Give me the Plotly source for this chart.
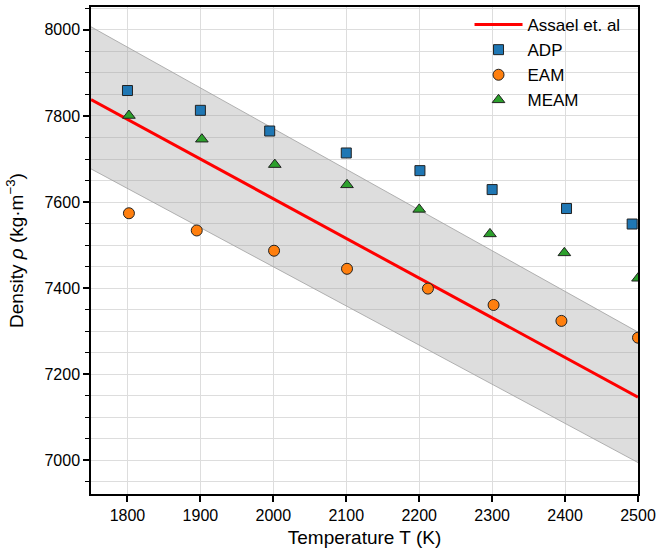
import plotly.graph_objects as go

# Data
T_line = [1750, 2500]
rho_line = [7838, 7147]
band_upper = [8007, 7298]
band_lower = [7677, 6995]

T_adp = [1800, 1900, 1995, 2100, 2201, 2300, 2402, 2492]
rho_adp = [7859, 7813, 7765, 7714, 7673, 7629, 7585, 7549]

T_eam = [1802, 1895, 2001, 2101, 2212, 2302, 2395, 2500]
rho_eam = [7574, 7534, 7487, 7445, 7399, 7361, 7324, 7285]

T_meam = [1802, 1902, 2002, 2101, 2200, 2297, 2399, 2500]
rho_meam = [7801, 7746, 7687, 7640, 7583, 7526, 7482, 7423]

x_ticks = [1800, 1900, 2000, 2100, 2200, 2300, 2400, 2500]
y_ticks = [7000, 7200, 7400, 7600, 7800, 8000]

FONT = "Liberation Sans, Arial, sans-serif"
fig = go.Figure()

fig.add_trace(go.Scatter(x=T_line, y=band_lower, mode="lines",
                         line=dict(color="rgba(160,160,160,0.8)", width=1),
                         showlegend=False, hoverinfo="skip"))
fig.add_trace(go.Scatter(x=T_line, y=band_upper, mode="lines", fill="tonexty",
                         fillcolor="rgba(150,150,150,0.32)",
                         line=dict(color="rgba(160,160,160,0.8)", width=1),
                         showlegend=False, hoverinfo="skip"))
fig.add_trace(go.Scatter(x=T_line, y=rho_line, mode="lines", name="Assael et. al",
                         line=dict(color="#ff0000", width=3)))
fig.add_trace(go.Scatter(x=T_adp, y=rho_adp, mode="markers", name="ADP",
                         marker=dict(symbol="square", size=10, color="#1f77b4",
                                     line=dict(color="#222", width=1))))
fig.add_trace(go.Scatter(x=T_eam, y=rho_eam, mode="markers", name="EAM",
                         marker=dict(symbol="circle", size=11, color="#ff7f0e",
                                     line=dict(color="#222", width=1))))
fig.add_trace(go.Scatter(x=T_meam, y=rho_meam, mode="markers", name="MEAM",
                         marker=dict(symbol="triangle-up", size=11, color="#2ca02c",
                                     line=dict(color="#222", width=1))))

fig.update_layout(
    width=661, height=550,
    margin=dict(l=91, r=23, t=5, b=53),
    paper_bgcolor="white", plot_bgcolor="white",
    font=dict(family=FONT, size=16, color="black"),
    legend=dict(x=0.692, y=1.0, xanchor="left", yanchor="top",
                traceorder="normal",
                bgcolor="rgba(0,0,0,0)", font=dict(size=17),
                tracegroupgap=0, itemwidth=48),
    showlegend=True,
)
fig.update_xaxes(
    range=[1750, 2500], tickvals=x_ticks, ticktext=[str(v) for v in x_ticks],
    showline=True, linecolor="black", linewidth=1.5, mirror=True,
    ticks="outside", ticklen=6, tickwidth=1.5, tickcolor="black",
    showgrid=True, gridcolor="#dddddd", gridwidth=1, zeroline=False,
    tickfont=dict(size=16),
    title=dict(text="Temperature T (K)", font=dict(size=19), standoff=8),
)
fig.update_yaxes(
    range=[6922, 8053], tickvals=y_ticks, ticktext=[str(v) for v in y_ticks],
    showline=True, linecolor="black", linewidth=1.5, mirror=True,
    ticks="outside", ticklen=6, tickwidth=1.5, tickcolor="black",
    showgrid=True, gridcolor="#dddddd", gridwidth=1, zeroline=False,
    tickfont=dict(size=16),
    minor=dict(dtick=50, tick0=7000, ticks="outside", ticklen=4, tickwidth=1.2,
               tickcolor="black", showgrid=True, gridcolor="#dddddd", gridwidth=1),
    title=dict(text="Density <i>ρ</i> (kg·m<sup>−3</sup>)", font=dict(size=19), standoff=16),
)

fig.write_html("out.html")
